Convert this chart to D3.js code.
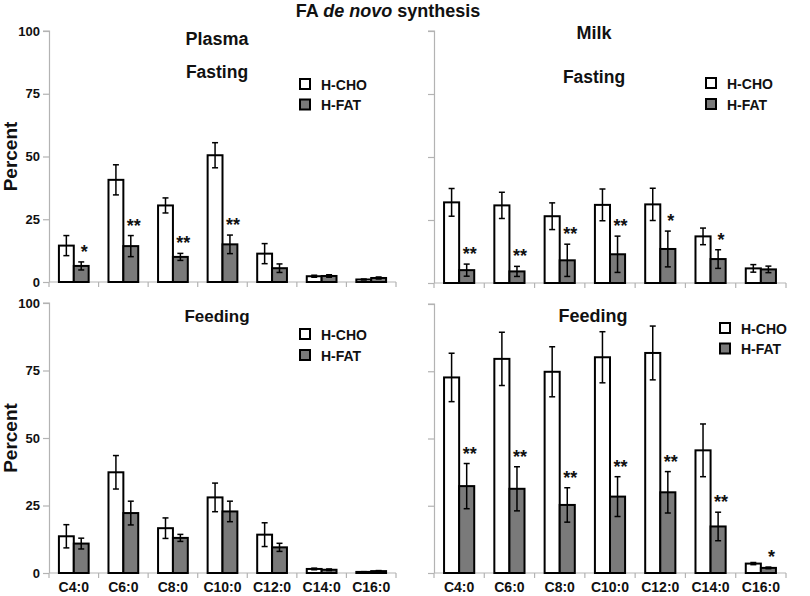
<!DOCTYPE html>
<html>
<head>
<meta charset="utf-8">
<script src="https://cdn.jsdelivr.net/npm/d3@7"></script>
<style>
  body { margin: 0; background: #fff; }
  svg { display: block; font-family: "Liberation Sans", Arial, sans-serif; }
</style>
</head>
<body>
<svg id="chart" width="810" height="596"></svg>
<script>
// ---------- DATA ----------
const categories = ["C4:0", "C6:0", "C8:0", "C10:0", "C12:0", "C14:0", "C16:0"];
const yTicks = [0, 25, 50, 75, 100];
const seriesNames = ["H-CHO", "H-FAT"];

// Plasma, fasting
const plasmaFastCho    = [14.5, 40.7, 30.5, 50.5, 11.3, 2.3, 1.0];
const plasmaFastChoErr = [4.0, 6.0, 3.0, 5.0, 4.0, 0.4, 0.2];
const plasmaFastFat    = [6.4, 14.3, 10.0, 15.0, 5.5, 2.4, 1.6];
const plasmaFastFatErr = [1.6, 4.2, 1.4, 3.7, 1.7, 0.5, 0.4];
const plasmaFastSig    = ["*", "**", "**", "**", "", "", ""];

// Milk, fasting
const milkFastCho    = [32.0, 30.8, 26.5, 31.0, 31.2, 18.5, 5.8];
const milkFastChoErr = [5.5, 5.2, 5.3, 6.3, 6.4, 3.3, 1.5];
const milkFastFat    = [5.1, 4.6, 9.0, 11.4, 13.5, 9.5, 5.4];
const milkFastFatErr = [2.4, 2.0, 6.4, 7.2, 7.1, 3.7, 1.3];
const milkFastSig    = ["**", "**", "**", "**", "*", "*", ""];

// Plasma, feeding
const plasmaFeedCho    = [13.6, 37.3, 16.6, 28.0, 14.2, 1.5, 0.4];
const plasmaFeedChoErr = [4.3, 6.2, 3.8, 5.3, 4.4, 0.3, 0.1];
const plasmaFeedFat    = [10.9, 22.2, 13.0, 22.8, 9.5, 1.2, 0.7];
const plasmaFeedFatErr = [2.0, 4.4, 1.3, 3.8, 1.5, 0.3, 0.2];
const plasmaFeedSig    = ["", "", "", "", "", "", ""];

// Milk, feeding
const milkFeedCho    = [72.7, 79.6, 74.8, 80.2, 81.8, 45.6, 3.5];
const milkFeedChoErr = [9.0, 9.9, 9.3, 9.5, 10.0, 9.8, 0.4];
const milkFeedFat    = [32.3, 31.3, 25.3, 28.4, 30.0, 17.3, 1.9];
const milkFeedFatErr = [8.4, 8.2, 6.4, 7.4, 7.7, 5.3, 0.3];
const milkFeedSig    = ["**", "**", "**", "**", "**", "**", "*"];

// ---------- LAYOUT ----------
const svg = d3.select("#chart");
const FONT_BOLD = 700;
const GRAY = "#7a7a7a";
const AXIS = "#b3b3b3";

const panels = [
  { cho: plasmaFastCho, choErr: plasmaFastChoErr, fat: plasmaFastFat, fatErr: plasmaFastFatErr, sig: plasmaFastSig,
    x0: 49, x1: 396, yTop: 31, yBot: 282, yLabels: true, xLabels: false,
    sub: "Fasting", subX: 217, subY: 78, subSize: 17.5,
    head: "Plasma", headX: 217, headY: 45,
    legX: 300, legY: 79, legGap: 20.5, legTextX: 321, ylab: true },
  { cho: milkFastCho, choErr: milkFastChoErr, fat: milkFastFat, fatErr: milkFastFatErr, sig: milkFastSig,
    x0: 434, x1: 786, yTop: 31, yBot: 283, yLabels: false, xLabels: false,
    sub: "Fasting", subX: 594, subY: 83, subSize: 17.5,
    head: "Milk", headX: 594, headY: 39,
    legX: 706, legY: 78, legGap: 21, legTextX: 727, ylab: false },
  { cho: plasmaFeedCho, choErr: plasmaFeedChoErr, fat: plasmaFeedFat, fatErr: plasmaFeedFatErr, sig: plasmaFeedSig,
    x0: 49, x1: 396, yTop: 303, yBot: 573, yLabels: true, xLabels: true,
    sub: "Feeding", subX: 217, subY: 322, subSize: 17,
    legX: 300, legY: 329, legGap: 21, legTextX: 321, ylab: true },
  { cho: milkFeedCho, choErr: milkFeedChoErr, fat: milkFeedFat, fatErr: milkFeedFatErr, sig: milkFeedSig,
    x0: 434, x1: 786, yTop: 304, yBot: 573, yLabels: false, xLabels: true,
    sub: "Feeding", subX: 593, subY: 322, subSize: 18,
    legX: 720, legY: 323, legGap: 20.5, legTextX: 741, ylab: false }
];

// Title
const title = svg.append("text")
  .attr("x", 388).attr("y", 17)
  .attr("text-anchor", "middle")
  .attr("font-size", 18).attr("font-weight", FONT_BOLD).attr("fill", "#111");
title.append("tspan").text("FA ");
title.append("tspan").attr("font-style", "italic").text("de novo");
title.append("tspan").text(" synthesis");

panels.forEach(p => {
  const g = svg.append("g");
  const x = d3.scaleBand().domain(categories).range([p.x0, p.x1]).padding(0);
  const y = d3.scaleLinear().domain([0, 100]).range([p.yBot, p.yTop]);
  const bw = x.bandwidth();
  const barW = bw * 0.3;
  const off = bw * 0.2;

  // y axis
  const yAxis = d3.axisLeft(y).tickValues(yTicks).tickSize(6).tickPadding(3)
    .tickFormat(p.yLabels ? d3.format("d") : () => "");
  const ya = g.append("g").attr("transform", `translate(${p.x0},0)`).call(yAxis);
  ya.select(".domain").attr("stroke", AXIS).attr("stroke-width", 1.2).attr("d", `M-6,${p.yTop}H0.5V${p.yBot}`);
  ya.selectAll(".tick line").attr("stroke", AXIS).attr("stroke-width", 1.2);
  ya.selectAll(".tick text").attr("font-size", 13).attr("font-weight", FONT_BOLD)
    .attr("fill", "#111").attr("font-family", "Liberation Sans, Arial, sans-serif");

  // x axis baseline and tick marks at band boundaries
  g.append("line").attr("x1", p.x0).attr("x2", p.x1)
    .attr("y1", p.yBot).attr("y2", p.yBot).attr("stroke", AXIS).attr("stroke-width", 1.2);
  const bounds = categories.map(c => x(c)).concat([p.x1]);
  g.selectAll(".xt").data(bounds).enter().append("line")
    .attr("x1", d => d).attr("x2", d => d)
    .attr("y1", p.yBot).attr("y2", p.yBot + 5)
    .attr("stroke", AXIS).attr("stroke-width", 1.2);

  if (p.xLabels) {
    g.selectAll(".xl").data(categories).enter().append("text")
      .attr("x", d => x(d) + bw / 2).attr("y", 592)
      .attr("text-anchor", "middle")
      .attr("font-size", 14).attr("font-weight", FONT_BOLD).attr("fill", "#111")
      .text(d => d);
  }

  if (p.ylab) {
    svg.append("text")
      .attr("transform", `translate(17,${(p.yTop + p.yBot) / 2}) rotate(-90)`)
      .attr("text-anchor", "middle")
      .attr("font-size", 19).attr("font-weight", FONT_BOLD).attr("fill", "#111")
      .text("Percent");
  }

  const rows = categories.map((c, i) => ({
    c, cho: p.cho[i], choErr: p.choErr[i], fat: p.fat[i], fatErr: p.fatErr[i], sig: p.sig[i]
  }));

  // bars
  const bars = [];
  rows.forEach(r => {
    bars.push({ c: r.c, v: r.cho, e: r.choErr, k: 0 });
    bars.push({ c: r.c, v: r.fat, e: r.fatErr, k: 1 });
  });
  g.selectAll(".bar").data(bars).enter().append("rect")
    .attr("x", d => x(d.c) + off + d.k * barW)
    .attr("y", d => y(d.v))
    .attr("width", barW)
    .attr("height", d => y(0) - y(d.v))
    .attr("fill", d => d.k === 0 ? "#fff" : GRAY)
    .attr("stroke", "#000").attr("stroke-width", 2);

  // error bars
  const eg = g.selectAll(".err").data(bars).enter().append("g");
  const cx = d => x(d.c) + off + d.k * barW + barW / 2;
  eg.append("line")
    .attr("x1", cx).attr("x2", cx)
    .attr("y1", d => y(d.v + d.e)).attr("y2", d => y(Math.max(0, d.v - d.e)))
    .attr("stroke", "#000").attr("stroke-width", 1.5);
  [1, -1].forEach(s => {
    eg.append("line")
      .attr("x1", d => cx(d) - 3).attr("x2", d => cx(d) + 3)
      .attr("y1", d => y(Math.max(0, d.v + s * d.e))).attr("y2", d => y(Math.max(0, d.v + s * d.e)))
      .attr("stroke", "#000").attr("stroke-width", 1.5);
  });

  // significance stars
  g.selectAll(".sig").data(rows.filter(r => r.sig)).enter().append("text")
    .attr("x", r => x(r.c) + off + barW * 1.5 + 3)
    .attr("y", r => y(r.fat + r.fatErr) - 4)
    .attr("text-anchor", "middle")
    .attr("font-size", 18).attr("font-weight", FONT_BOLD).attr("fill", "#111")
    .text(r => r.sig);

  // panel headings
  if (p.head) {
    svg.append("text").attr("x", p.headX).attr("y", p.headY).attr("text-anchor", "middle")
      .attr("font-size", 18).attr("font-weight", FONT_BOLD).attr("fill", "#111").text(p.head);
  }
  svg.append("text").attr("x", p.subX).attr("y", p.subY).attr("text-anchor", "middle")
    .attr("font-size", p.subSize).attr("font-weight", FONT_BOLD).attr("fill", "#111").text(p.sub);

  // legend
  const lg = svg.append("g");
  seriesNames.forEach((name, i) => {
    lg.append("rect").attr("x", p.legX).attr("y", p.legY + i * p.legGap)
      .attr("width", 10).attr("height", 10)
      .attr("fill", i === 0 ? "#fff" : GRAY).attr("stroke", "#000").attr("stroke-width", 2);
    lg.append("text").attr("x", p.legTextX).attr("y", p.legY + 10.5 + i * p.legGap)
      .attr("font-size", 14).attr("font-weight", FONT_BOLD).attr("fill", "#111").text(name);
  });
});
</script>
</body>
</html>
